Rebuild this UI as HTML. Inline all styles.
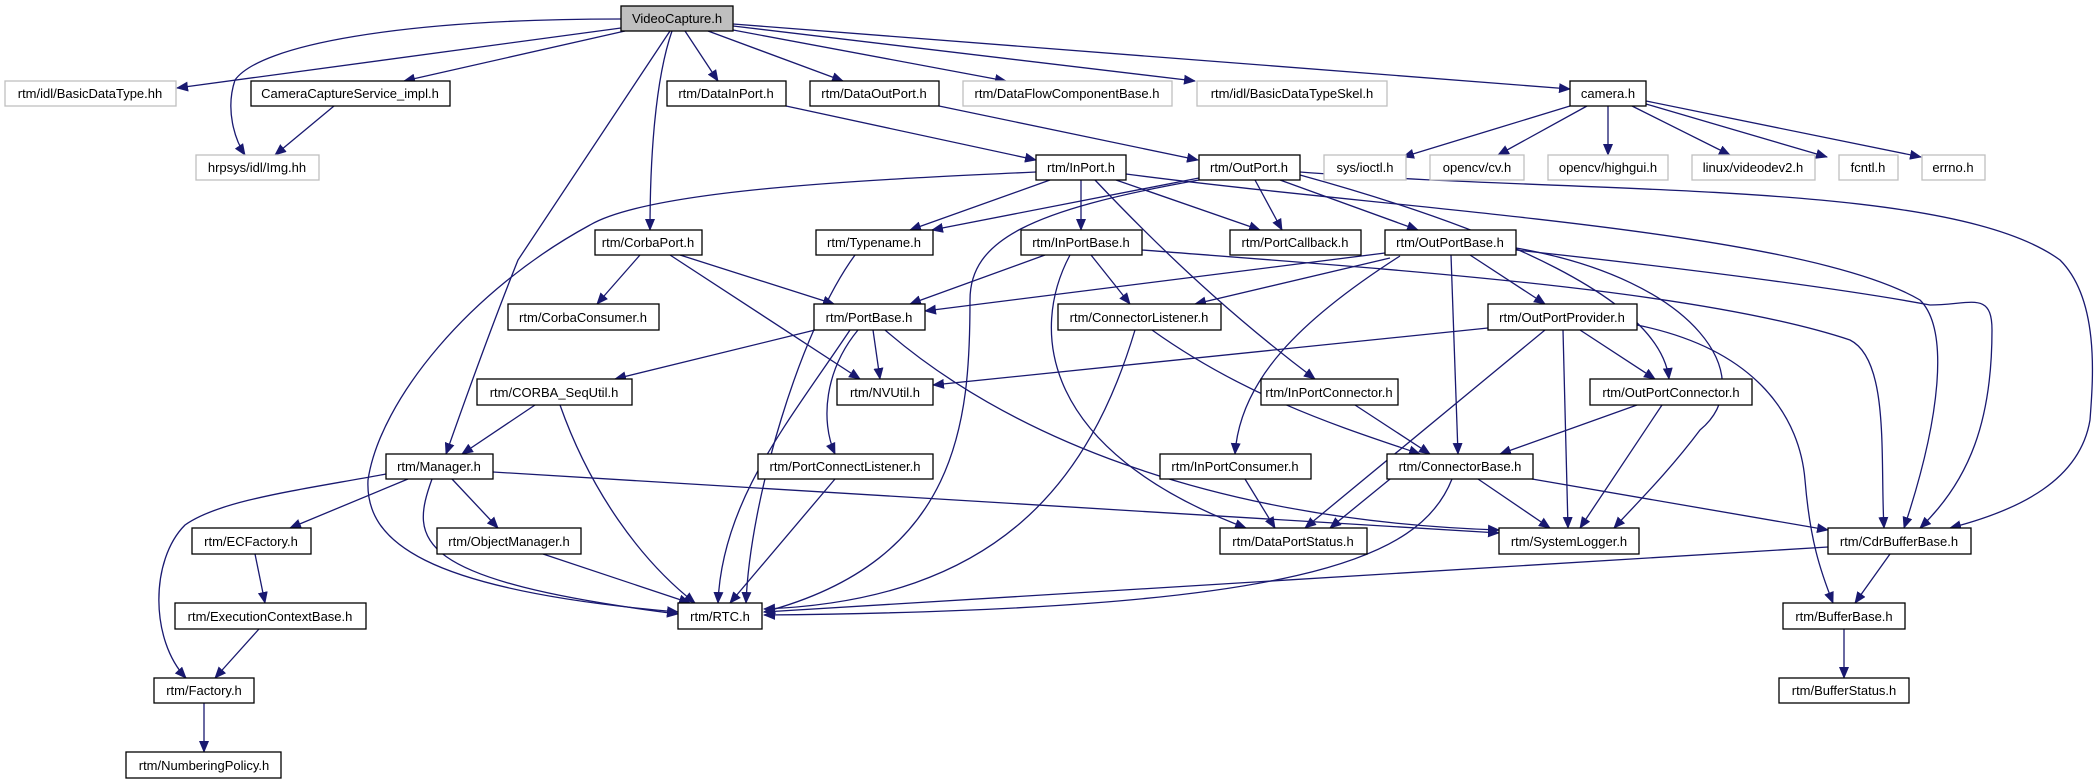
<!DOCTYPE html>
<html><head><meta charset="utf-8"><style>
html,body{margin:0;padding:0;background:#fff;}
svg{display:block;}
text{font-family:"Liberation Sans",sans-serif;font-size:13px;fill:#000;}
.e{fill:none;stroke:#191970;stroke-width:1.3;}
.n rect{fill:#fff;stroke:#000;stroke-width:1.3;}
.g rect{fill:#fff;stroke:#bfbfbf;stroke-width:1.3;}
</style></head><body>
<svg width="2099" height="784" viewBox="0 0 2099 784" xmlns="http://www.w3.org/2000/svg">
<defs><marker id="a" markerWidth="12" markerHeight="10" refX="11" refY="5" orient="auto" markerUnits="userSpaceOnUse"><path d="M0,0 L12,5 L0,10 z" fill="#191970"/></marker></defs>
<g marker-end="url(#a)">
<!-- VideoCapture -->
<path class="e" d="M621,28 L177,88"/>
<path class="e" d="M621,19 C400,19 260,45 235,80 C225,110 235,140 245,155"/>
<path class="e" d="M625,31 L404,81"/>
<path class="e" d="M670,31 L518,260 C490,330 465,400 446,454"/>
<path class="e" d="M672,31 C655,80 650,160 650,230"/>
<path class="e" d="M685,31 L718,81"/>
<path class="e" d="M708,31 L843,81"/>
<path class="e" d="M733,30 L1006,81"/>
<path class="e" d="M733,26 L1195,81"/>
<path class="e" d="M733,24 L1570,89"/>
<path class="e" d="M334,106 L275,155"/>
<path class="e" d="M786,106 L1036,160"/>
<path class="e" d="M939,106 L1198,160"/>
<!-- camera -->
<path class="e" d="M1570,106 L1403,157"/>
<path class="e" d="M1587,106 L1498,155"/>
<path class="e" d="M1608,106 L1608,155"/>
<path class="e" d="M1632,106 L1730,155"/>
<path class="e" d="M1646,104 L1827,157"/>
<path class="e" d="M1646,101 L1921,157"/>
<!-- InPort -->
<path class="e" d="M1036,172 C860,180 650,190 590,225 C470,290 380,400 368,480 C365,540 420,590 678,612"/>
<path class="e" d="M1050,180 L910,230"/>
<path class="e" d="M1081,180 L1081,230"/>
<path class="e" d="M1116,180 L1260,230"/>
<path class="e" d="M1095,180 C1180,270 1250,330 1315,379"/>
<path class="e" d="M1126,174 C1400,210 1800,230 1920,300 C1950,330 1940,420 1904,528"/>
<!-- OutPort -->
<path class="e" d="M1199,178 L932,230"/>
<path class="e" d="M1199,180 C1030,210 970,240 970,300 C970,420 960,560 764,612"/>
<path class="e" d="M1255,180 L1282,230"/>
<path class="e" d="M1280,180 L1418,230"/>
<path class="e" d="M1300,175 C1500,230 1660,300 1669,379"/>
<path class="e" d="M1300,172 C1600,195 1950,180 2060,260 C2100,300 2093,380 2090,420 C2080,480 2020,510 1950,528"/>
<!-- CorbaPort -->
<path class="e" d="M640,255 L597,304"/>
<path class="e" d="M680,255 L834,304"/>
<path class="e" d="M670,255 L860,379"/>
<!-- Typename -->
<path class="e" d="M855,255 C800,330 750,500 746,603"/>
<!-- InPortBase -->
<path class="e" d="M1045,255 L910,304"/>
<path class="e" d="M1091,255 L1130,304"/>
<path class="e" d="M1070,255 C1030,330 1040,450 1246,528"/>
<path class="e" d="M1142,250 C1400,270 1700,290 1850,340 C1890,360 1880,460 1884,528"/>
<!-- OutPortBase -->
<path class="e" d="M1385,253 L925,311"/>
<path class="e" d="M1390,258 L1195,304"/>
<path class="e" d="M1400,256 C1300,320 1240,380 1235,454"/>
<path class="e" d="M1451,255 L1458,454"/>
<path class="e" d="M1470,255 L1545,304"/>
<path class="e" d="M1516,248 C1700,280 1760,380 1700,430 C1670,470 1640,500 1614,528"/>
<path class="e" d="M1516,250 C1700,270 1850,290 1930,305 C1970,305 1992,290 1992,330 C1992,420 1970,480 1920,528"/>
<!-- PortBase -->
<path class="e" d="M815,330 L615,379"/>
<path class="e" d="M873,330 L880,379"/>
<path class="e" d="M850,330 C790,420 722,500 718,603"/>
<path class="e" d="M858,330 C825,370 820,420 835,454"/>
<path class="e" d="M885,330 C1000,430 1200,520 1499,530"/>
<!-- ConnectorListener -->
<path class="e" d="M1135,330 C1090,480 1000,600 764,609"/>
<path class="e" d="M1152,330 C1250,400 1350,430 1420,454"/>
<!-- OutPortProvider -->
<path class="e" d="M1488,328 L933,385"/>
<path class="e" d="M1545,330 L1305,528"/>
<path class="e" d="M1563,330 L1568,528"/>
<path class="e" d="M1580,330 L1655,379"/>
<path class="e" d="M1637,325 C1760,350 1800,420 1805,480 C1810,540 1820,570 1833,603"/>
<!-- CORBA_SeqUtil -->
<path class="e" d="M535,405 L462,454"/>
<path class="e" d="M560,405 C590,490 640,560 695,603"/>
<!-- connectors -->
<path class="e" d="M1355,405 L1430,454"/>
<path class="e" d="M1637,405 L1500,454"/>
<path class="e" d="M1662,405 L1580,528"/>
<!-- Manager -->
<path class="e" d="M408,479 L290,528"/>
<path class="e" d="M452,479 L498,528"/>
<path class="e" d="M432,479 C410,540 410,580 678,614"/>
<path class="e" d="M386,474 C300,490 220,500 185,525 C150,560 150,640 186,678"/>
<path class="e" d="M493,472 L1499,533"/>
<path class="e" d="M835,479 L730,603"/>
<path class="e" d="M1245,479 L1275,528"/>
<!-- ConnectorBase -->
<path class="e" d="M1395,475 L1330,528"/>
<path class="e" d="M1452,479 C1420,560 1300,610 764,615"/>
<path class="e" d="M1478,479 L1550,528"/>
<path class="e" d="M1532,479 L1828,530"/>
<path class="e" d="M255,554 L265,603"/>
<path class="e" d="M259,629 L215,678"/>
<path class="e" d="M204,703 L204,752"/>
<path class="e" d="M543,554 L690,603"/>
<path class="e" d="M1828,547 L764,612"/>
<path class="e" d="M1890,554 L1855,603"/>
<path class="e" d="M1844,629 L1844,678"/>
</g>
<!-- nodes -->
<g class="n"><rect x="621" y="6" width="112" height="25" style="fill:#bfbfbf"/><text x="677" y="23" text-anchor="middle">VideoCapture.h</text></g>
<g class="g"><rect x="5" y="81" width="171" height="25"/><text x="90" y="98" text-anchor="middle">rtm/idl/BasicDataType.hh</text></g>
<g class="n"><rect x="251" y="81" width="199" height="25"/><text x="350" y="98" text-anchor="middle">CameraCaptureService_impl.h</text></g>
<g class="n"><rect x="667" y="81" width="119" height="25"/><text x="726" y="98" text-anchor="middle">rtm/DataInPort.h</text></g>
<g class="n"><rect x="810" y="81" width="129" height="25"/><text x="874" y="98" text-anchor="middle">rtm/DataOutPort.h</text></g>
<g class="g"><rect x="963" y="81" width="209" height="25"/><text x="1067" y="98" text-anchor="middle">rtm/DataFlowComponentBase.h</text></g>
<g class="g"><rect x="1197" y="81" width="190" height="25"/><text x="1292" y="98" text-anchor="middle">rtm/idl/BasicDataTypeSkel.h</text></g>
<g class="n"><rect x="1570" y="81" width="76" height="25"/><text x="1608" y="98" text-anchor="middle">camera.h</text></g>
<g class="g"><rect x="196" y="155" width="123" height="25"/><text x="257" y="172" text-anchor="middle">hrpsys/idl/Img.hh</text></g>
<g class="n"><rect x="1036" y="155" width="90" height="25"/><text x="1081" y="172" text-anchor="middle">rtm/InPort.h</text></g>
<g class="n"><rect x="1199" y="155" width="101" height="25"/><text x="1249" y="172" text-anchor="middle">rtm/OutPort.h</text></g>
<g class="g"><rect x="1324" y="155" width="82" height="25"/><text x="1365" y="172" text-anchor="middle">sys/ioctl.h</text></g>
<g class="g"><rect x="1430" y="155" width="94" height="25"/><text x="1477" y="172" text-anchor="middle">opencv/cv.h</text></g>
<g class="g"><rect x="1548" y="155" width="120" height="25"/><text x="1608" y="172" text-anchor="middle">opencv/highgui.h</text></g>
<g class="g"><rect x="1692" y="155" width="123" height="25"/><text x="1753" y="172" text-anchor="middle">linux/videodev2.h</text></g>
<g class="g"><rect x="1839" y="155" width="59" height="25"/><text x="1868" y="172" text-anchor="middle">fcntl.h</text></g>
<g class="g"><rect x="1922" y="155" width="63" height="25"/><text x="1953" y="172" text-anchor="middle">errno.h</text></g>
<g class="n"><rect x="595" y="230" width="107" height="25"/><text x="648" y="247" text-anchor="middle">rtm/CorbaPort.h</text></g>
<g class="n"><rect x="816" y="230" width="117" height="25"/><text x="874" y="247" text-anchor="middle">rtm/Typename.h</text></g>
<g class="n"><rect x="1021" y="230" width="121" height="25"/><text x="1081" y="247" text-anchor="middle">rtm/InPortBase.h</text></g>
<g class="n"><rect x="1230" y="230" width="131" height="25"/><text x="1295" y="247" text-anchor="middle">rtm/PortCallback.h</text></g>
<g class="n"><rect x="1385" y="230" width="131" height="25"/><text x="1450" y="247" text-anchor="middle">rtm/OutPortBase.h</text></g>
<g class="n"><rect x="508" y="304" width="151" height="26"/><text x="583" y="322" text-anchor="middle">rtm/CorbaConsumer.h</text></g>
<g class="n"><rect x="814" y="304" width="111" height="26"/><text x="869" y="322" text-anchor="middle">rtm/PortBase.h</text></g>
<g class="n"><rect x="1058" y="304" width="163" height="26"/><text x="1139" y="322" text-anchor="middle">rtm/ConnectorListener.h</text></g>
<g class="n"><rect x="1488" y="304" width="149" height="26"/><text x="1562" y="322" text-anchor="middle">rtm/OutPortProvider.h</text></g>
<g class="n"><rect x="477" y="379" width="155" height="26"/><text x="554" y="397" text-anchor="middle">rtm/CORBA_SeqUtil.h</text></g>
<g class="n"><rect x="837" y="379" width="96" height="26"/><text x="885" y="397" text-anchor="middle">rtm/NVUtil.h</text></g>
<g class="n"><rect x="1261" y="379" width="137" height="26"/><text x="1329" y="397" text-anchor="middle">rtm/InPortConnector.h</text></g>
<g class="n"><rect x="1590" y="379" width="162" height="26"/><text x="1671" y="397" text-anchor="middle">rtm/OutPortConnector.h</text></g>
<g class="n"><rect x="386" y="454" width="107" height="25"/><text x="439" y="471" text-anchor="middle">rtm/Manager.h</text></g>
<g class="n"><rect x="758" y="454" width="175" height="25"/><text x="845" y="471" text-anchor="middle">rtm/PortConnectListener.h</text></g>
<g class="n"><rect x="1160" y="454" width="151" height="25"/><text x="1235" y="471" text-anchor="middle">rtm/InPortConsumer.h</text></g>
<g class="n"><rect x="1387" y="454" width="146" height="25"/><text x="1460" y="471" text-anchor="middle">rtm/ConnectorBase.h</text></g>
<g class="n"><rect x="192" y="528" width="119" height="26"/><text x="251" y="546" text-anchor="middle">rtm/ECFactory.h</text></g>
<g class="n"><rect x="437" y="528" width="144" height="26"/><text x="509" y="546" text-anchor="middle">rtm/ObjectManager.h</text></g>
<g class="n"><rect x="1220" y="528" width="147" height="26"/><text x="1293" y="546" text-anchor="middle">rtm/DataPortStatus.h</text></g>
<g class="n"><rect x="1499" y="528" width="140" height="26"/><text x="1569" y="546" text-anchor="middle">rtm/SystemLogger.h</text></g>
<g class="n"><rect x="1828" y="528" width="143" height="26"/><text x="1899" y="546" text-anchor="middle">rtm/CdrBufferBase.h</text></g>
<g class="n"><rect x="175" y="603" width="191" height="26"/><text x="270" y="621" text-anchor="middle">rtm/ExecutionContextBase.h</text></g>
<g class="n"><rect x="678" y="603" width="84" height="26"/><text x="720" y="621" text-anchor="middle">rtm/RTC.h</text></g>
<g class="n"><rect x="1783" y="603" width="122" height="26"/><text x="1844" y="621" text-anchor="middle">rtm/BufferBase.h</text></g>
<g class="n"><rect x="154" y="678" width="100" height="25"/><text x="204" y="695" text-anchor="middle">rtm/Factory.h</text></g>
<g class="n"><rect x="1779" y="678" width="130" height="25"/><text x="1844" y="695" text-anchor="middle">rtm/BufferStatus.h</text></g>
<g class="n"><rect x="126" y="752" width="155" height="26"/><text x="204" y="770" text-anchor="middle">rtm/NumberingPolicy.h</text></g>
</svg>
</body></html>
